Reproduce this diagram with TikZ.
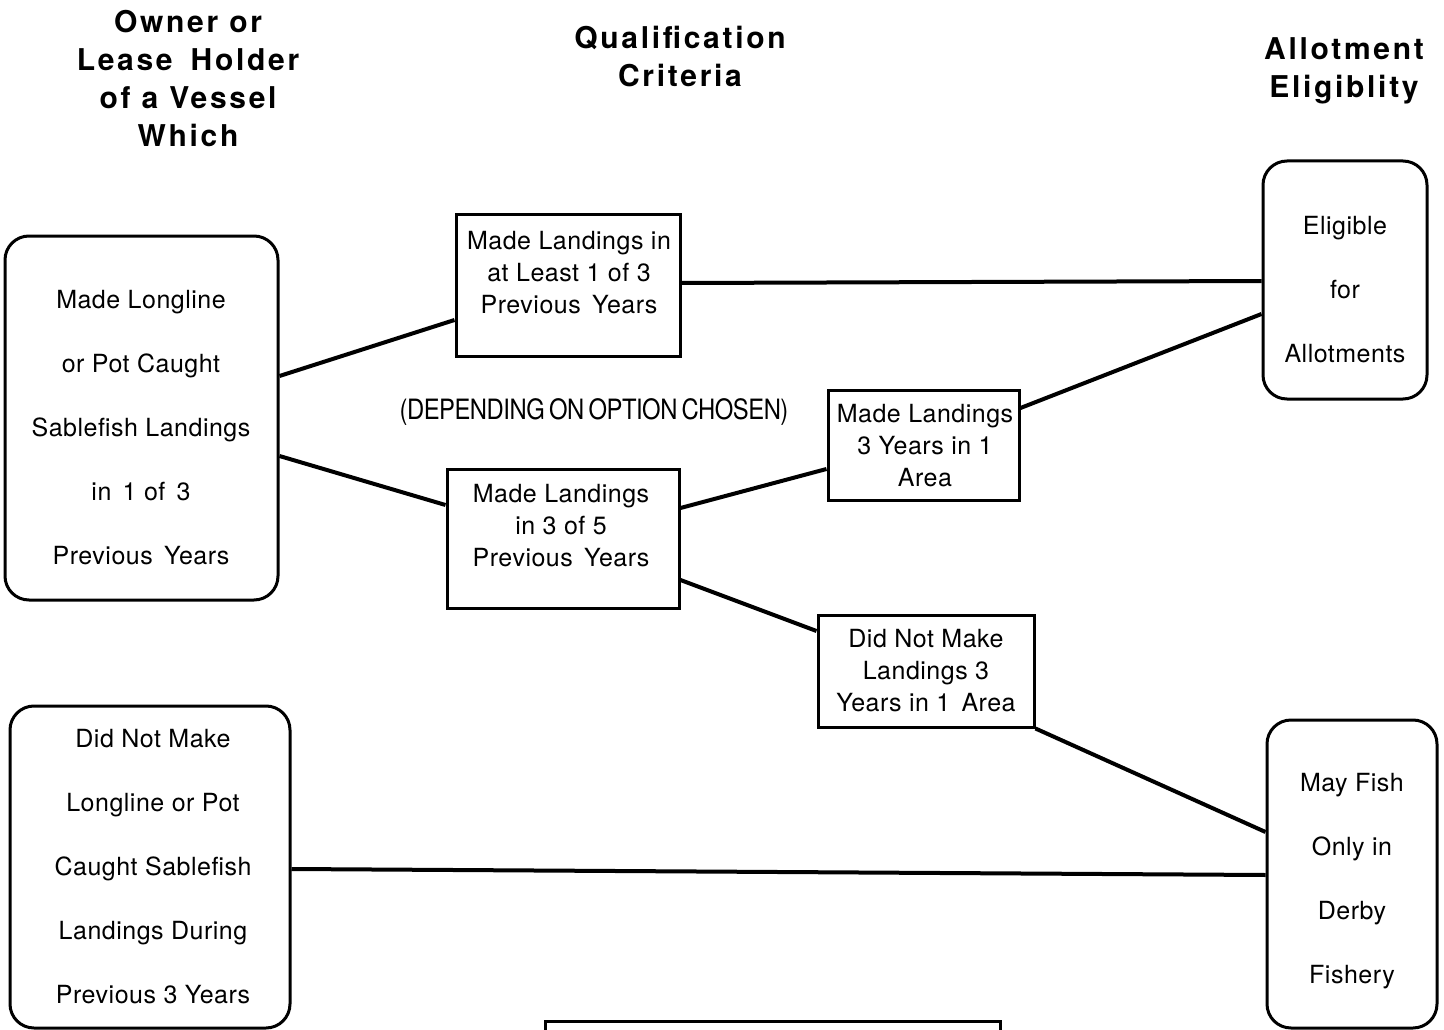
\documentclass[tikz,border=0pt]{standalone}
\usepackage{fontspec}
\usepackage{graphicx}
\setmainfont{TeX Gyre Heros}[LetterSpace=2]
\newfontfamily\ttlfont{TeX Gyre Heros}[LetterSpace=9]
\newfontfamily\narrowfont{TeX Gyre Heros}[WordSpace=0.7,LetterSpace=-2]
\newcommand{\dsp}{\hspace{0.45em}}
\begin{document}
\begin{tikzpicture}[x=1pt,y=-1pt,
  rbox/.style={draw, line width=3pt, rounded corners=24pt, inner sep=0pt},
  sbox/.style={draw, line width=3pt, inner sep=0pt},
  txt/.style={align=center, inner sep=0pt, font=\fontsize{25}{64}\selectfont},
  stxt/.style={align=center, inner sep=0pt, font=\fontsize{25}{32}\selectfont},
  ttl/.style={align=center, inner sep=0pt, font=\fontsize{30}{38}\selectfont\ttlfont\bfseries},
  conn/.style={line width=4pt}]
\useasboundingbox (0,0) rectangle (1444,1030);
\clip (0,0) rectangle (1444,1030);
\fill[white] (0,0) rectangle (1444,1030);

% titles
\node[ttl] (T1) at (188,78.5) {Owner or\\Lease\hspace{0.6em}Holder\\of a Vessel\\Which};
\node[ttl] (T2) at (680,56.5) {Qualification\\Criteria};
\node[ttl] (T3) at (1344,71) {Allotment\\Eligiblity};

% rounded boxes
\node[rbox, minimum width=273pt, minimum height=364pt] (A) at (141.5,418) {};
\node[txt] (At) at (141,428) {Made Longline\\or Pot Caught\\Sablefish Landings\\in\dsp 1 of\dsp 3\\Previous\dsp Years};
\node[rbox, minimum width=280pt, minimum height=322pt] (B) at (150,867) {};
\node[txt] (Bt) at (153,867) {Did Not Make\\Longline or Pot\\Caught Sablefish\\Landings During\\Previous 3 Years};
\node[rbox, minimum width=164pt, minimum height=238pt] (G) at (1345,280) {};
\node[txt] (Gt) at (1345,290) {Eligible\\for\\Allotments};
\node[rbox, minimum width=170pt, minimum height=308pt] (H) at (1352,874) {};
\node[txt] (Ht) at (1352,881) {May Fish\\Only in\\Derby\\Fishery};

% square boxes
\node[sbox, minimum width=224pt, minimum height=142pt] (C) at (568,285) {};
\node[stxt] (Ct) at (569,272.5) {Made Landings in\\at Least 1 of 3\\Previous\dsp Years};
\node[sbox, minimum width=232pt, minimum height=139pt] (D) at (563,538.5) {};
\node[stxt] (Dt) at (561,526) {Made Landings\\in 3 of 5\\Previous\dsp Years};
\node[sbox, minimum width=191pt, minimum height=110pt] (E) at (923.5,445) {};
\node[stxt] (Et) at (925,446) {Made Landings\\3 Years in 1\\Area};
\node[sbox, minimum width=216pt, minimum height=112pt] (F) at (926,671) {};
\node[stxt] (Ft) at (926,671) {Did Not Make\\Landings 3\\Years in 1\dsp Area};

% bottom (cut off) box
\node[sbox, minimum width=455pt, minimum height=60pt] (X) at (772.5,1051) {};

% label
\node[inner sep=0pt, font=\fontsize{28}{30}\selectfont\narrowfont] (L) at (594,412) {\scalebox{0.85}[1]{(DEPENDING ON OPTION CHOSEN)}};

% connectors
\draw[conn] (A.east |- 0,376) -- (C.west |- 0,320);
\draw[conn] (A.east |- 0,456) -- (D.west |- 0,505);
\draw[conn] (C.east |- 0,283) -- (G.west |- 0,281);
\draw[conn] (D.east |- 0,508) -- (E.west |- 0,469);
\draw[conn] (E.east |- 0,408) -- (G.west |- 0,314);
\draw[conn] (D.east |- 0,580) -- (F.west |- 0,631);
\draw[conn] (F.south east) -- (H.west |- 0,832);
\draw[conn] (B.east |- 0,869) -- (H.west |- 0,875);
\end{tikzpicture}
\end{document}
